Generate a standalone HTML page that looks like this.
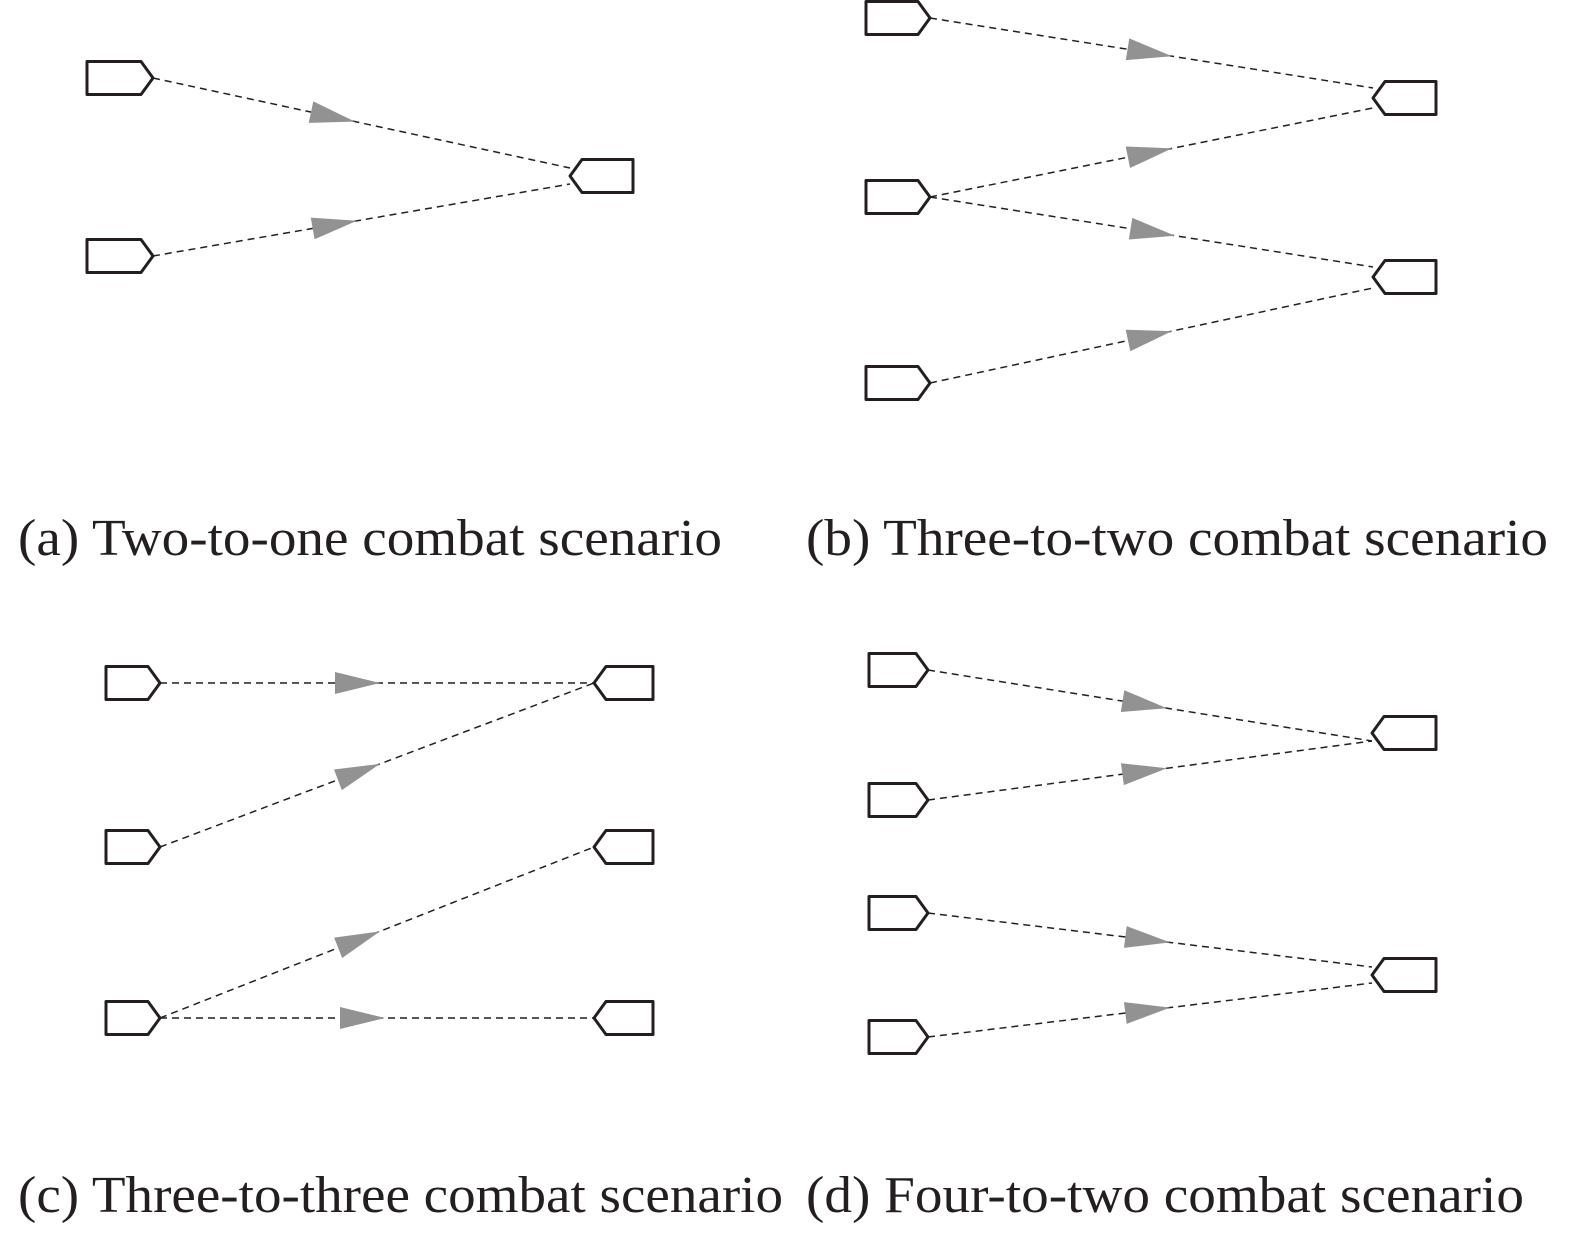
<!DOCTYPE html>
<html><head><meta charset="utf-8"><style>html,body{margin:0;padding:0;background:#fff}svg{display:block}</style></head>
<body>
<svg id="s" width="1575" height="1233" viewBox="0 0 1575 1233" xmlns="http://www.w3.org/2000/svg">
<g font-family="Liberation Serif, serif" font-size="52" fill="#231f20">
<text x="18" y="555" textLength="704" lengthAdjust="spacingAndGlyphs">(a) Two-to-one combat scenario</text>
<text x="806" y="555" textLength="742" lengthAdjust="spacingAndGlyphs">(b) Three-to-two combat scenario</text>
<text x="18" y="1212" textLength="765" lengthAdjust="spacingAndGlyphs">(c) Three-to-three combat scenario</text>
<text x="806" y="1212" textLength="718" lengthAdjust="spacingAndGlyphs">(d) Four-to-two combat scenario</text>
</g>
<g id="g"></g>
</svg>
<script>
var g=document.getElementById('g'),h='';
function src(x0,tip,cy){h+='<path d="M'+x0+' '+(cy-16.5)+'H'+(tip-12)+'L'+tip+' '+cy+'L'+(tip-12)+' '+(cy+16.5)+'H'+x0+'Z" fill="none" stroke="#231f20" stroke-width="3" stroke-linejoin="round"/>';}
function tgt(tip,x1,cy){h+='<path d="M'+x1+' '+(cy-16.5)+'H'+(tip+12)+'L'+tip+' '+cy+'L'+(tip+12)+' '+(cy+16.5)+'H'+x1+'Z" fill="none" stroke="#231f20" stroke-width="3" stroke-linejoin="round"/>';}
function edge(x1,y1,x2,y2,ax){
 h+='<line x1="'+x1+'" y1="'+y1+'" x2="'+x2+'" y2="'+y2+'" stroke="#231f20" stroke-width="1.5" stroke-dasharray="7,5"/>';
 var t=(ax-x1)/(x2-x1),ay=y1+t*(y2-y1),dx=x2-x1,dy=y2-y1,L=Math.hypot(dx,dy),ux=dx/L,uy=dy/L,bx=ax-ux*45,by=ay-uy*45;
 h+='<polygon points="'+ax+','+ay+' '+(bx-uy*11)+','+(by+ux*11)+' '+(bx+uy*11)+','+(by-ux*11)+'" fill="#929292"/>';
}
// (a)
src(87,153,78);src(87,153,256);tgt(570,633,176);
edge(153,78,570,168,355);edge(153,256,570,184,357);
// (b)
[18,197,383].forEach(function(y){src(866,930,y)});
tgt(1373,1436,98);tgt(1373,1436,277);
edge(930,18,1373,88,1172);edge(930,197,1373,108,1172);edge(930,197,1373,267,1175);edge(930,383,1373,288,1172);
// (c)
[683,847,1018].forEach(function(y){src(106,160,y);tgt(594,653,y)});
edge(160,683,594,683,380);edge(160,847,594,683,380);edge(160,1018,594,847,380);edge(160,1018,594,1018,385);
// (d)
[670,800,913,1037].forEach(function(y){src(869,928,y)});
tgt(1372,1436,733);tgt(1372,1436,975);
edge(928,670,1372,741,1167);edge(928,800,1372,741,1167);edge(928,913,1372,967,1170);edge(928,1037,1372,983,1170);
g.innerHTML=h;
</script>
</body></html>
